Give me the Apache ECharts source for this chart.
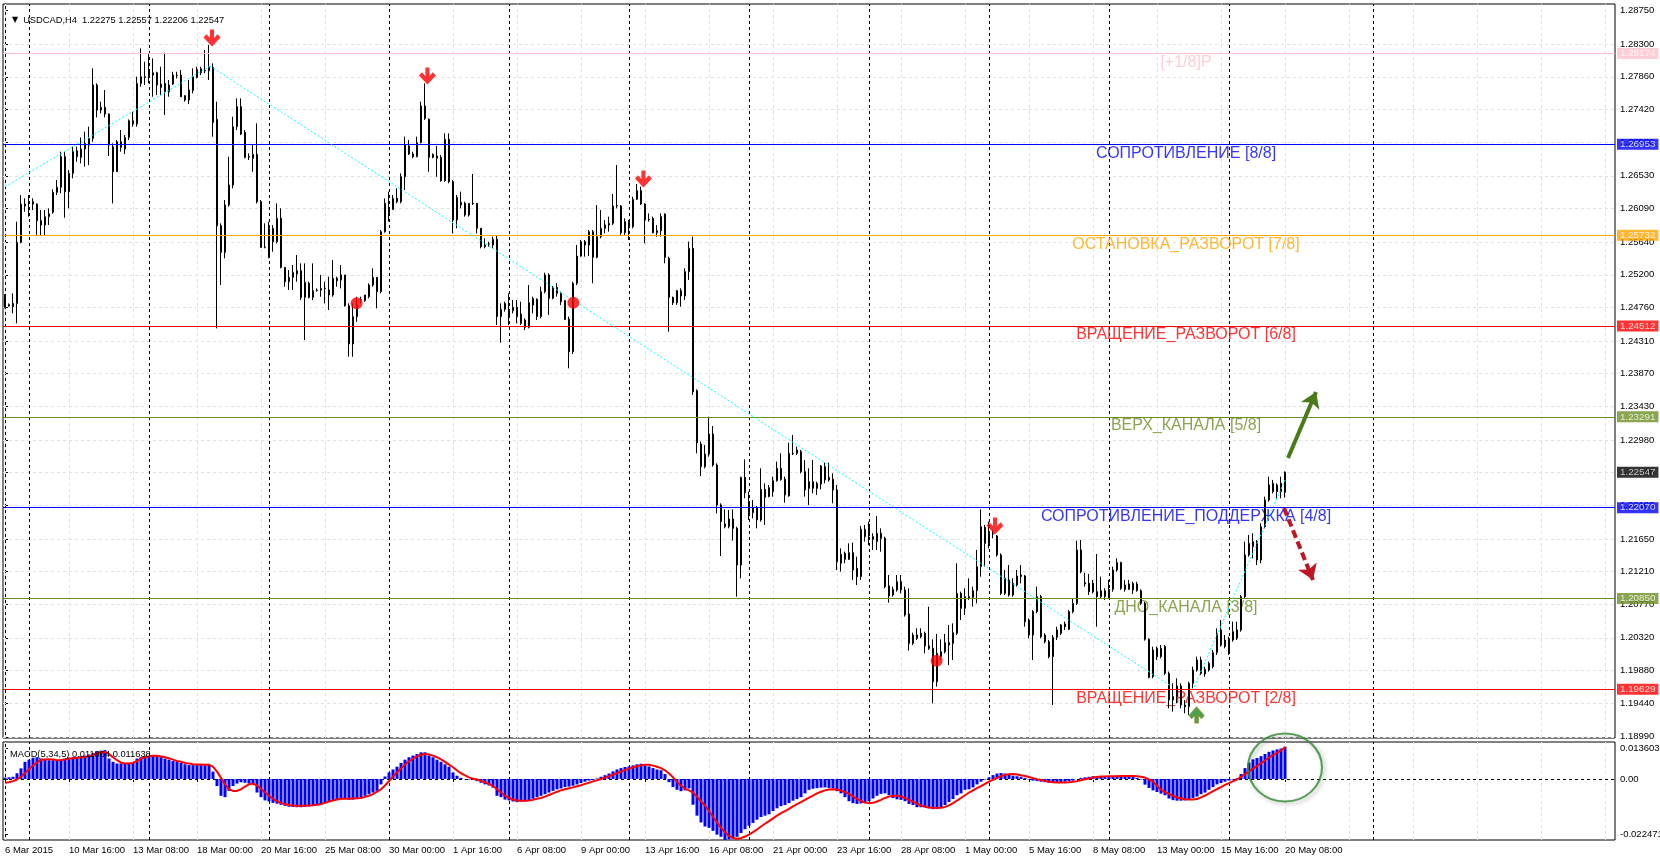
<!DOCTYPE html>
<html><head><meta charset="utf-8">
<script src="https://cdn.jsdelivr.net/npm/echarts@6/dist/echarts.min.js"></script>
<style>html,body{margin:0;padding:0;background:#fff;}#c{width:1660px;height:860px;}</style>
</head><body><div id="c"></div>
<script>
// ---------- DATA ----------
const symbolName = 'USDCAD,H4';
const dateLabels = ['6 Mar 2015','10 Mar 16:00','13 Mar 08:00','18 Mar 00:00','20 Mar 16:00','25 Mar 08:00','30 Mar 00:00','1 Apr 16:00','6 Apr 08:00','9 Apr 00:00','13 Apr 16:00','16 Apr 08:00','21 Apr 00:00','23 Apr 16:00','28 Apr 08:00','1 May 00:00','5 May 16:00','8 May 08:00','13 May 00:00','15 May 16:00','20 May 08:00'];
// [open, close, low, high] per H4 bar
const candles = [
[1.24905,1.24762,1.24748,1.24941],[1.24798,1.24780,1.24771,1.24815],[1.24771,1.24815,1.24681,1.24950],[1.24815,1.25635,1.24547,1.25913],[1.25635,1.26150,1.25622,1.26271],
[1.26150,1.26124,1.26048,1.26227],[1.26182,1.26175,1.25981,1.26271],[1.26182,1.26150,1.26070,1.26227],[1.26150,1.25927,1.25734,1.26159],[1.25927,1.25869,1.25734,1.26070],
[1.25869,1.25981,1.25734,1.26070],[1.25981,1.26019,1.25869,1.26092],[1.26039,1.26307,1.26019,1.26348],[1.26307,1.26375,1.26271,1.26473],[1.26375,1.26787,1.26294,1.26854],
[1.26787,1.26316,1.25967,1.26854],[1.26316,1.26563,1.26092,1.26607],[1.26563,1.26854,1.26496,1.26921],[1.26867,1.26787,1.26719,1.26921],[1.26778,1.26890,1.26697,1.27046],
[1.26890,1.26966,1.26652,1.27123],[1.26943,1.27033,1.26675,1.27190],[1.27033,1.27750,1.26988,1.27974],[1.27750,1.27414,1.27315,1.27772],[1.27414,1.27450,1.27369,1.27526],
[1.27450,1.27360,1.27315,1.27683],[1.27360,1.26943,1.26796,1.27369],[1.26921,1.26585,1.26159,1.26966],[1.26585,1.26988,1.26585,1.27011],[1.26988,1.26912,1.26854,1.27145],
[1.26890,1.27046,1.26822,1.27078],[1.27046,1.27270,1.27011,1.27288],[1.27270,1.27226,1.27190,1.27391],[1.27226,1.27772,1.27190,1.27862],[1.27772,1.27862,1.27727,1.28243],
[1.27862,1.27851,1.27750,1.28063],[1.27951,1.27862,1.27772,1.28175],[1.27884,1.27916,1.27593,1.28108],[1.27916,1.27750,1.27615,1.27929],[1.27718,1.27763,1.27615,1.27996],
[1.27772,1.27660,1.27347,1.28184],[1.27660,1.27750,1.27593,1.27817],[1.27763,1.27884,1.27750,1.27929],[1.27875,1.27880,1.27839,1.27929],[1.27884,1.27593,1.27593,1.27951],
[1.27606,1.27548,1.27526,1.27615],[1.27548,1.27683,1.27494,1.27817],[1.27674,1.27862,1.27638,1.27974],[1.27853,1.27960,1.27839,1.27996],[1.27916,1.27969,1.27884,1.27996],
[1.27942,1.27946,1.27907,1.28220],[1.27942,1.27987,1.27817,1.28287],[1.27987,1.27248,1.27055,1.28041],[1.27288,1.25859,1.24480,1.27526],[1.25859,1.25501,1.25062,1.25891],
[1.25501,1.26137,1.25421,1.26204],[1.26137,1.26406,1.26115,1.26787],[1.26406,1.27190,1.26361,1.27324],[1.27190,1.27459,1.27145,1.27571],[1.27459,1.27091,1.27078,1.27571],
[1.27114,1.26778,1.26764,1.27145],[1.26787,1.26782,1.26742,1.26831],[1.26764,1.26818,1.26585,1.26943],[1.26818,1.26182,1.26159,1.27235],[1.26182,1.25568,1.25568,1.26204],
[1.25568,1.25572,1.25555,1.25891],[1.25434,1.25823,1.25421,1.25913],[1.25823,1.25644,1.25510,1.25869],[1.25644,1.25958,1.25622,1.26159],[1.25958,1.25299,1.25286,1.26092],
[1.25299,1.25107,1.25040,1.25299],[1.25107,1.25165,1.24995,1.25263],[1.25165,1.25232,1.24995,1.25331],[1.25210,1.25254,1.25107,1.25465],[1.25254,1.24896,1.24860,1.25353],
[1.24896,1.25098,1.24323,1.25353],[1.25085,1.24896,1.24883,1.25107],[1.24896,1.24986,1.24860,1.25353],[1.24995,1.24990,1.24973,1.25017],[1.24995,1.25017,1.24905,1.25196],
[1.25010,1.25017,1.24815,1.25107],[1.24995,1.24928,1.24726,1.25174],[1.24928,1.25153,1.24905,1.25398],[1.25153,1.25120,1.25040,1.25174],[1.25129,1.25197,1.25017,1.25331],
[1.25197,1.24784,1.24771,1.25197],[1.24784,1.24269,1.24099,1.24816],[1.24269,1.24637,1.24099,1.24816],[1.24637,1.24793,1.24569,1.24905],[1.24861,1.24865,1.24816,1.24905],
[1.24852,1.24928,1.24838,1.24928],[1.24905,1.25062,1.24883,1.25085],[1.25062,1.25165,1.25040,1.25286],[1.25165,1.24973,1.24749,1.25165],[1.24973,1.25779,1.24950,1.25801],
[1.25779,1.26160,1.25766,1.26227],[1.26034,1.26079,1.25914,1.26317],[1.26079,1.26227,1.26070,1.26272],[1.26227,1.26182,1.26160,1.26361],[1.26182,1.26518,1.26160,1.26563],
[1.26518,1.26944,1.26339,1.27056],[1.26930,1.26823,1.26809,1.27011],[1.26823,1.26787,1.26765,1.26854],[1.26787,1.26975,1.26778,1.27056],[1.26975,1.27468,1.26966,1.27526],
[1.27468,1.27302,1.27280,1.27773],[1.27289,1.26778,1.26585,1.27302],[1.26778,1.26818,1.26765,1.26832],[1.26796,1.26765,1.26518,1.26930],[1.26778,1.26464,1.26451,1.26809],
[1.26464,1.27020,1.26451,1.27101],[1.27020,1.26451,1.26429,1.27101],[1.26451,1.25936,1.25757,1.26473],[1.25936,1.26240,1.25824,1.26272],[1.26173,1.26137,1.26093,1.26317],
[1.26160,1.26003,1.25981,1.26182],[1.26003,1.26160,1.25981,1.26160],[1.26160,1.26156,1.26137,1.26554],[1.26160,1.25824,1.25757,1.26160],[1.25824,1.25577,1.25555,1.25824],
[1.25577,1.25600,1.25555,1.25689],[1.25613,1.25610,1.25577,1.25645],[1.25600,1.25676,1.25555,1.25712],[1.25676,1.24637,1.24525,1.25735],[1.24637,1.24735,1.24287,1.24816],
[1.24735,1.24816,1.24704,1.24838],[1.24628,1.24717,1.24525,1.24950],[1.24717,1.24762,1.24681,1.24861],[1.24762,1.24637,1.24547,1.24861],[1.24672,1.24547,1.24525,1.24838],
[1.24592,1.24493,1.24457,1.24614],[1.24493,1.24825,1.24480,1.25062],[1.24793,1.24883,1.24681,1.24905],[1.24870,1.24637,1.24592,1.24883],[1.24637,1.24973,1.24614,1.25040],
[1.24973,1.25197,1.24950,1.25228],[1.25197,1.24883,1.24659,1.25219],[1.24883,1.25031,1.24870,1.25049],[1.25031,1.24950,1.24905,1.25085],[1.24950,1.24838,1.24793,1.24973],
[1.24852,1.24601,1.24592,1.24861],[1.24601,1.24166,1.23942,1.24637],[1.24166,1.25085,1.24135,1.25107],[1.25085,1.25452,1.25062,1.25600],[1.25452,1.25645,1.25443,1.25667],
[1.25645,1.25600,1.25443,1.25667],[1.25600,1.25779,1.25452,1.25801],[1.25779,1.25434,1.25085,1.25801],[1.25434,1.25712,1.25421,1.26137],[1.25712,1.25824,1.25689,1.26070],
[1.25824,1.25869,1.25757,1.25936],[1.25869,1.25891,1.25779,1.25981],[1.25891,1.26124,1.25869,1.26285],[1.26124,1.26128,1.26093,1.26675],[1.26124,1.25766,1.25735,1.26137],
[1.25766,1.25914,1.25735,1.25958],[1.25914,1.25846,1.25667,1.25936],[1.25846,1.26214,1.25824,1.26249],[1.26214,1.26330,1.26205,1.26420],[1.26330,1.26151,1.26137,1.26384],
[1.26151,1.25936,1.25622,1.26160],[1.25945,1.25940,1.25914,1.26025],[1.25958,1.25766,1.25757,1.25981],[1.25766,1.25792,1.25712,1.25869],[1.25792,1.25981,1.25712,1.26025],
[1.26016,1.25434,1.25354,1.26025],[1.25421,1.24897,1.24435,1.25443],[1.24897,1.24825,1.24794,1.24906],[1.24825,1.24986,1.24794,1.24995],[1.24986,1.24915,1.24771,1.25018],
[1.24915,1.25242,1.24861,1.25286],[1.25242,1.25555,1.25130,1.25645],[1.25555,1.23629,1.23584,1.25712],[1.23642,1.22943,1.22800,1.23660],[1.22925,1.22621,1.22495,1.22957],
[1.22621,1.22791,1.22598,1.22912],[1.22791,1.23060,1.22755,1.23293],[1.23060,1.22643,1.22621,1.23167],[1.22643,1.22106,1.21994,1.22666],[1.22106,1.21882,1.21420,1.22128],
[1.21850,1.21814,1.21792,1.22047],[1.21814,1.21917,1.21792,1.22038],[1.21917,1.21792,1.21627,1.22047],[1.21792,1.21299,1.20874,1.21814],[1.21299,1.22477,1.21120,1.22486],
[1.22477,1.22271,1.22195,1.22719],[1.22150,1.22002,1.21904,1.22285],[1.22002,1.22074,1.21926,1.22173],[1.22074,1.21904,1.21792,1.22092],[1.21904,1.22316,1.21882,1.22598],
[1.22316,1.22209,1.21837,1.22397],[1.22218,1.22339,1.22209,1.22374],[1.22285,1.22433,1.22218,1.22486],[1.22433,1.22598,1.22419,1.22688],[1.22598,1.22451,1.22433,1.22800],
[1.22451,1.22240,1.22137,1.22486],[1.22227,1.22800,1.22218,1.22943],[1.22800,1.22796,1.22777,1.23046],[1.22800,1.22845,1.22777,1.22890],[1.22822,1.22554,1.22531,1.22845],
[1.22554,1.22307,1.22218,1.22710],[1.22419,1.22330,1.22106,1.22598],[1.22330,1.22419,1.22262,1.22710],[1.22397,1.22330,1.22240,1.22419],[1.22388,1.22630,1.22316,1.22643],
[1.22621,1.22442,1.22397,1.22675],[1.22442,1.22477,1.22419,1.22675],[1.22451,1.22307,1.22128,1.22531],[1.22307,1.21344,1.21232,1.22374],[1.21322,1.21442,1.21210,1.21523],
[1.21456,1.21375,1.21322,1.21479],[1.21375,1.21465,1.21366,1.21590],[1.21465,1.21232,1.21098,1.21599],[1.21254,1.21142,1.21030,1.21411],[1.21142,1.21779,1.21098,1.21825],
[1.21779,1.21680,1.21614,1.21837],[1.21689,1.21850,1.21568,1.21882],[1.21680,1.21645,1.21501,1.21725],[1.21614,1.21725,1.21501,1.21958],[1.21725,1.21658,1.21479,1.21792],
[1.21658,1.21008,1.20986,1.21680],[1.21017,1.20883,1.20793,1.21165],[1.20896,1.20972,1.20874,1.21008],[1.20963,1.21075,1.20941,1.21165],[1.21075,1.20963,1.20918,1.21165],
[1.20963,1.20627,1.20605,1.21008],[1.20641,1.20246,1.20148,1.20986],[1.20246,1.20358,1.20224,1.20390],[1.20314,1.20358,1.20291,1.20448],[1.20381,1.20336,1.20314,1.20448],
[1.20381,1.20211,1.20112,1.20403],[1.20211,1.20179,1.20157,1.20739],[1.20179,1.19731,1.19440,1.20300],[1.19731,1.20112,1.19664,1.20372],[1.20067,1.20134,1.20022,1.20300],
[1.20134,1.20255,1.20112,1.20372],[1.20255,1.20224,1.19955,1.20493],[1.20246,1.20390,1.20022,1.20515],[1.20381,1.20918,1.20358,1.21322],[1.20918,1.20717,1.20560,1.20941],
[1.20717,1.20874,1.20627,1.20986],[1.20851,1.20874,1.20829,1.21120],[1.20865,1.20954,1.20739,1.21008],[1.20954,1.21277,1.20784,1.21501],[1.21277,1.21814,1.21142,1.22047],
[1.21805,1.21590,1.21277,1.21837],[1.21590,1.21725,1.21523,1.21882],[1.21716,1.21720,1.21658,1.21770],[1.21689,1.21434,1.21411,1.21703],[1.21434,1.20918,1.20896,1.21456],
[1.20918,1.21120,1.20896,1.21232],[1.21098,1.20896,1.20874,1.21299],[1.20896,1.21053,1.20874,1.21120],[1.21030,1.21151,1.21008,1.21232],[1.21142,1.21165,1.21053,1.21299],
[1.21151,1.20538,1.20470,1.21165],[1.20560,1.20358,1.20314,1.20582],[1.20358,1.20672,1.20022,1.20694],[1.20672,1.20874,1.20650,1.21008],[1.20874,1.20336,1.20314,1.20896],
[1.20358,1.20269,1.20246,1.20381],[1.20269,1.20067,1.20045,1.20291],[1.20067,1.20327,1.19418,1.20358],[1.20327,1.20426,1.20291,1.20470],[1.20381,1.20493,1.20358,1.20506],
[1.20506,1.20470,1.20426,1.20538],[1.20435,1.20672,1.20426,1.20694],[1.20672,1.20784,1.20650,1.20851],[1.20784,1.21501,1.20762,1.21626],[1.21501,1.21210,1.21187,1.21635],
[1.21044,1.21062,1.21008,1.21196],[1.21053,1.20941,1.20896,1.21178],[1.21053,1.20941,1.20918,1.21098],[1.20941,1.20874,1.20470,1.21447],[1.20954,1.20874,1.20851,1.21142],
[1.20874,1.20954,1.20829,1.20986],[1.20865,1.20972,1.20851,1.21098],[1.20972,1.21232,1.20941,1.21277],[1.21232,1.21331,1.21210,1.21389],[1.21331,1.20986,1.20963,1.21344],
[1.21030,1.20972,1.20941,1.21098],[1.20972,1.21044,1.20963,1.21098],[1.20963,1.21053,1.20910,1.21075],[1.21044,1.20954,1.20941,1.21075],[1.20954,1.20784,1.20762,1.20972],
[1.20784,1.20300,1.20282,1.20806],[1.20300,1.19789,1.19776,1.20314],[1.19798,1.20157,1.19776,1.20202],[1.20179,1.20067,1.20022,1.20202],[1.20067,1.20179,1.20045,1.20224],
[1.20202,1.19843,1.19821,1.20224],[1.19843,1.19485,1.19373,1.19866],[1.19485,1.19530,1.19328,1.19709],[1.19530,1.19673,1.19440,1.19776],[1.19673,1.19418,1.19373,1.19709],
[1.19418,1.19395,1.19306,1.19485],[1.19395,1.19709,1.19283,1.19731],[1.19709,1.19888,1.19642,1.19933],[1.19888,1.20022,1.19866,1.20067],[1.20022,1.19843,1.19821,1.20067],
[1.19834,1.19897,1.19798,1.19933],[1.19888,1.19978,1.19866,1.20000],[1.19933,1.20121,1.19910,1.20157],[1.20121,1.20381,1.20090,1.20448],[1.20426,1.20224,1.20202,1.20560],
[1.20291,1.20202,1.20179,1.20358],[1.20112,1.20314,1.20090,1.20336],[1.20291,1.20403,1.20269,1.20538],[1.20314,1.20426,1.20291,1.20538],[1.20426,1.20874,1.20403,1.20896],
[1.20874,1.21434,1.20851,1.21613],[1.21434,1.21590,1.21411,1.21702],[1.21546,1.21613,1.21389,1.21725],[1.21613,1.21366,1.21299,1.21635],[1.21366,1.21814,1.21322,1.21859],
[1.21814,1.22173,1.21792,1.22218],[1.22173,1.22374,1.22150,1.22486],[1.22285,1.22397,1.22262,1.22442],[1.22374,1.22285,1.22195,1.22397],[1.22397,1.22285,1.22195,1.22486],
[1.22275,1.22547,1.22206,1.22557]
];
const macdHist = [
0.0005,0.0006,0.0008,0.0021,0.0039,0.0063,0.0071,0.0078,0.0080,0.0075,
0.0071,0.0069,0.0069,0.0069,0.0071,0.0075,0.0078,0.0080,0.0080,0.0083,
0.0086,0.0090,0.0095,0.0102,0.0104,0.0106,0.0075,0.0063,0.0057,0.0057,
0.0057,0.0057,0.0059,0.0075,0.0080,0.0083,0.0085,0.0086,0.0085,0.0080,
0.0075,0.0071,0.0066,0.0063,0.0059,0.0054,0.0051,0.0051,0.0051,0.0051,
0.0051,0.0052,0.0027,-0.0026,-0.0062,-0.0067,-0.0044,-0.0026,-0.0017,-0.0012,
-0.0014,-0.0017,-0.0020,-0.0050,-0.0067,-0.0079,-0.0083,-0.0088,-0.0091,-0.0095,
-0.0099,-0.0102,-0.0103,-0.0104,-0.0104,-0.0103,-0.0101,-0.0099,-0.0097,-0.0095,
-0.0088,-0.0083,-0.0079,-0.0076,-0.0073,-0.0073,-0.0076,-0.0076,-0.0071,-0.0067,
-0.0062,-0.0056,-0.0050,-0.0044,-0.0020,0.0009,0.0024,0.0035,0.0045,0.0059,
0.0071,0.0080,0.0086,0.0092,0.0098,0.0098,0.0086,0.0080,0.0071,0.0063,
0.0054,0.0045,0.0024,0.0012,0.0004,-0.0001,-0.0002,-0.0002,-0.0008,-0.0014,
-0.0020,-0.0024,-0.0032,-0.0062,-0.0067,-0.0076,-0.0079,-0.0083,-0.0085,-0.0083,
-0.0083,-0.0079,-0.0073,-0.0067,-0.0062,-0.0056,-0.0050,-0.0044,-0.0038,-0.0035,
-0.0030,-0.0028,-0.0025,-0.0020,-0.0015,-0.0010,-0.0006,-0.0003,0.0002,0.0008,
0.0014,0.0020,0.0028,0.0035,0.0040,0.0044,0.0046,0.0050,0.0054,0.0056,
0.0050,0.0046,0.0040,0.0035,0.0032,0.0018,-0.0012,-0.0030,-0.0040,-0.0045,
-0.0042,-0.0035,-0.0095,-0.0135,-0.0160,-0.0175,-0.0180,-0.0191,-0.0205,-0.0213,
-0.0225,-0.0222,-0.0220,-0.0213,-0.0199,-0.0185,-0.0172,-0.0162,-0.0150,-0.0140,
-0.0135,-0.0130,-0.0118,-0.0108,-0.0100,-0.0096,-0.0089,-0.0080,-0.0074,-0.0067,
-0.0053,-0.0040,-0.0036,-0.0034,-0.0032,-0.0031,-0.0033,-0.0035,-0.0045,-0.0053,
-0.0067,-0.0082,-0.0089,-0.0092,-0.0090,-0.0089,-0.0082,-0.0072,-0.0062,-0.0055,
-0.0053,-0.0060,-0.0070,-0.0075,-0.0077,-0.0082,-0.0092,-0.0096,-0.0104,-0.0104,
-0.0104,-0.0108,-0.0111,-0.0108,-0.0104,-0.0096,-0.0085,-0.0074,-0.0060,-0.0053,
-0.0040,-0.0038,-0.0031,-0.0020,-0.0010,-0.0002,0.0006,0.0014,0.0020,0.0022,
0.0020,0.0016,0.0012,0.0010,0.0008,0.0004,-0.0002,-0.0006,-0.0008,-0.0010,
-0.0012,-0.0014,-0.0015,-0.0014,-0.0012,-0.0010,-0.0008,-0.0006,0.0000,0.0004,
0.0006,0.0008,0.0010,0.0010,0.0010,0.0009,0.0010,0.0011,0.0012,0.0012,
0.0011,0.0010,0.0008,0.0004,-0.0002,-0.0021,-0.0033,-0.0042,-0.0048,-0.0054,
-0.0060,-0.0072,-0.0078,-0.0080,-0.0080,-0.0079,-0.0076,-0.0070,-0.0065,-0.0056,
-0.0050,-0.0040,-0.0030,-0.0020,-0.0015,-0.0010,-0.0006,-0.0002,0.0002,0.0018,
0.0040,0.0060,0.0072,0.0077,0.0084,0.0092,0.0100,0.0105,0.0109,0.0112,0.011864
];
const macdSignal = [
-0.0014,-0.0012,-0.0008,-0.0002,0.0008,0.0022,0.0036,0.0050,0.0060,0.0071,
0.0072,0.0073,0.0072,0.0069,0.0070,0.0072,0.0075,0.0075,0.0078,0.0080,
0.0080,0.0084,0.0088,0.0094,0.0098,0.0099,0.0092,0.0080,0.0069,0.0060,
0.0057,0.0057,0.0059,0.0066,0.0075,0.0080,0.0083,0.0085,0.0085,0.0083,
0.0080,0.0076,0.0071,0.0066,0.0063,0.0059,0.0057,0.0054,0.0053,0.0053,
0.0052,0.0052,0.0045,0.0027,0.0004,-0.0020,-0.0038,-0.0044,-0.0044,-0.0038,
-0.0028,-0.0020,-0.0017,-0.0024,-0.0036,-0.0050,-0.0062,-0.0073,-0.0082,-0.0088,
-0.0092,-0.0096,-0.0098,-0.0099,-0.0099,-0.0099,-0.0098,-0.0097,-0.0095,-0.0092,
-0.0088,-0.0083,-0.0079,-0.0076,-0.0073,-0.0073,-0.0073,-0.0072,-0.0071,-0.0070,
-0.0066,-0.0062,-0.0056,-0.0047,-0.0038,-0.0024,-0.0008,0.0009,0.0024,0.0039,
0.0053,0.0065,0.0075,0.0083,0.0089,0.0092,0.0090,0.0086,0.0080,0.0072,
0.0063,0.0053,0.0043,0.0031,0.0021,0.0013,0.0006,0.0001,-0.0002,-0.0007,
-0.0012,-0.0018,-0.0026,-0.0038,-0.0050,-0.0062,-0.0070,-0.0076,-0.0079,-0.0080,
-0.0080,-0.0079,-0.0077,-0.0073,-0.0070,-0.0065,-0.0059,-0.0053,-0.0047,-0.0042,
-0.0038,-0.0034,-0.0031,-0.0027,-0.0023,-0.0018,-0.0014,-0.0009,-0.0005,0.0000,
0.0005,0.0010,0.0016,0.0021,0.0027,0.0033,0.0038,0.0043,0.0047,0.0050,
0.0052,0.0052,0.0049,0.0045,0.0040,0.0032,0.0020,0.0006,-0.0010,-0.0025,
-0.0036,-0.0042,-0.0050,-0.0065,-0.0082,-0.0098,-0.0118,-0.0140,-0.0160,-0.0180,
-0.0196,-0.0210,-0.0217,-0.0220,-0.0218,-0.0212,-0.0205,-0.0196,-0.0186,-0.0175,
-0.0165,-0.0155,-0.0145,-0.0135,-0.0126,-0.0118,-0.0110,-0.0101,-0.0093,-0.0085,
-0.0077,-0.0069,-0.0061,-0.0053,-0.0047,-0.0042,-0.0039,-0.0038,-0.0039,-0.0043,
-0.0048,-0.0055,-0.0064,-0.0073,-0.0081,-0.0087,-0.0089,-0.0088,-0.0083,-0.0077,
-0.0070,-0.0065,-0.0062,-0.0062,-0.0065,-0.0070,-0.0077,-0.0084,-0.0091,-0.0098,
-0.0102,-0.0105,-0.0106,-0.0107,-0.0106,-0.0103,-0.0097,-0.0089,-0.0080,-0.0070,
-0.0060,-0.0050,-0.0042,-0.0034,-0.0026,-0.0018,-0.0010,-0.0003,0.0004,0.0010,
0.0015,0.0017,0.0018,0.0016,0.0014,0.0011,0.0007,0.0003,-0.0001,-0.0004,
-0.0007,-0.0010,-0.0012,-0.0013,-0.0013,-0.0013,-0.0012,-0.0010,-0.0008,-0.0005,
-0.0001,0.0002,0.0005,0.0007,0.0009,0.0009,0.0010,0.0010,0.0010,0.0011,
0.0011,0.0011,0.0011,0.0010,0.0008,0.0005,-0.0002,-0.0010,-0.0025,-0.0040,
-0.0048,-0.0055,-0.0062,-0.0068,-0.0072,-0.0075,-0.0076,-0.0076,-0.0074,-0.0068,
-0.0061,-0.0053,-0.0045,-0.0037,-0.0030,-0.0022,-0.0015,-0.0008,-0.0002,0.0008,
0.0018,0.0028,0.0038,0.0048,0.0058,0.0068,0.0079,0.0088,0.0096,0.0105,0.011638
];
const priceAxisTop = 1.28750;
const priceTicks = [1.28300,1.27860,1.27420,1.26980,1.26530,1.26090,1.25640,1.25200,1.24760,1.24310,1.23870,1.23430,1.22980,1.22540,1.22100,1.21650,1.21210,1.20770,1.20320,1.19880,1.19440,1.18990];
const macdMax = 0.013603, macdMin = -0.022471;
const levelValues = [1.28174,1.26953,1.25732,1.24512,1.23291,1.22070,1.20850,1.19629];
const levelNames = ['[+1/8]P','СОПРОТИВЛЕНИЕ [8/8]','ОСТАНОВКА_РАЗВОРОТ [7/8]','ВРАЩЕНИЕ_РАЗВОРОТ [6/8]','ВЕРХ_КАНАЛА [5/8]','СОПРОТИВЛЕНИЕ_ПОДДЕРЖКА [4/8]','ДНО_КАНАЛА [3/8]','ВРАЩЕНИЕ_РАЗВОРОТ [2/8]'];
const levelColors = ['#FFC0CB','#0000FF','#FFA500','#FF0000','#6B8E23','#0000FF','#6B8E23','#FF0000'];
const levelTextBar = 295.25;
const weekStartBars = [6,36,66,96,126,156,186,216,246,276,306,342];
const arrowDownPoints = [[51.75,1.28382],[105.6,1.27871],[159.6,1.26487],[247.5,1.21823]];
const dotPoints = [[87.9,1.24816],[142.1,1.24824],[232.9,1.20013]];
const arrowUpPoints = [[297.9,1.19283]];
const trendLines = [
  [[0,1.26383],[51.25,1.28005]],
  [[51.25,1.28005],[291.5,1.19672]],
  [[297.3,1.19663],[320,1.22441]]
];
const upArrow = [[320.75,1.22736],[327.75,1.23624]];
const downArrow = [[319.75,1.22065],[327,1.21097]];
const macdCircle = [320,0.00420];

// ---------- LAYOUT ----------
const SLOTS = 403;
const Y_MIN = 1.18974, Y_MAX = 1.28839;
const X_MIN = -0.5, X_MAX = SLOTS - 0.5;
const last = candles[candles.length-1];
const categories = [];
for (let i = 0; i < SLOTS; i++) categories.push(i % 16 === 0 && i/16 < dateLabels.length ? dateLabels[i/16] : '');
const vGridBars = [];
for (let i = 0; i < SLOTS; i += 16) vGridBars.push(i);
const FONT = 'Liberation Sans';
const fmt5 = v => v.toFixed(5);
const downPath = 'path://M6.5,0 L10.5,0 L10.5,8 L14,4.5 L17,7.5 L8.5,16 L0,7.5 L3,4.5 L6.5,8 Z';
const upPath = 'path://M6.5,16 L10.5,16 L10.5,8 L14,11.5 L17,8.5 L8.5,0 L0,8.5 L3,11.5 L6.5,8 Z';
const macdInset = (macdMax - macdMin) / 98 * 6;
const gridStyle = {color: '#e2e2e2', type: [3, 3], width: 1};
const sepStyle = {color: '#000000', type: [3, 3], width: 1};

const mainGuides = []
  .concat(priceTicks.map(v => ({coords: [[X_MIN, v], [X_MAX, v]], lineStyle: gridStyle})))
  .concat(vGridBars.map(b => ({coords: [[b, Y_MIN], [b, Y_MAX]], lineStyle: gridStyle})))
  .concat(weekStartBars.map(b => ({coords: [[b, Y_MIN], [b, Y_MAX]], lineStyle: sepStyle})));
const macdGuides = []
  .concat(vGridBars.map(b => ({coords: [[b, macdMin], [b, macdMax]], lineStyle: gridStyle})))
  .concat(weekStartBars.map(b => ({coords: [[b, macdMin], [b, macdMax]], lineStyle: sepStyle})))
  .concat([{coords: [[X_MIN, 0], [X_MAX, 0]], lineStyle: sepStyle}]);
const levelLines = levelValues.map((v, k) => ({coords: [[X_MIN, v], [X_MAX, v]], lineStyle: {color: levelColors[k], width: 1, type: 'solid'}}));
const tagItems = levelValues.map((v, k) => ({value: [X_MAX, v], label: {backgroundColor: levelColors[k], formatter: fmt5(v)}}))
  .concat([{value: [X_MAX, last[1]], label: {backgroundColor: '#000000', formatter: fmt5(last[1])}}]);

const chart = echarts.init(document.getElementById('c'));
const option = {
  animation: false,
  backgroundColor: '#ffffff',
  textStyle: {fontFamily: FONT},
  title: [
    {left: 7, top: 6, text: '{tri|▼} {t|' + symbolName + '  ' + [last[0], last[3], last[2], last[1]].map(fmt5).join(' ') + '}',
     textStyle: {rich: {tri: {fontFamily: 'DejaVu Sans', fontSize: 8, color: '#000'}, t: {fontFamily: FONT, fontSize: 9.3, color: '#000', fontWeight: 'normal'}}}},
    {left: 5, top: 745, text: 'MACD(5,34,5) ' + macdHist[macdHist.length-1].toFixed(6) + ' ' + macdSignal[macdSignal.length-1].toFixed(6),
     textStyle: {fontFamily: FONT, fontSize: 9.3, color: '#000', fontWeight: 'normal'}}
  ],
  grid: [
    {left: 3, top: 4, width: 1612, height: 734, show: true, borderColor: '#000', borderWidth: 1, outerBoundsMode: 'none'},
    {left: 3, top: 742, width: 1612, height: 98, show: true, borderColor: '#000', borderWidth: 1, outerBoundsMode: 'none'}
  ],
  xAxis: [
    {type: 'category', gridIndex: 0, data: categories, boundaryGap: true, axisLine: {show: false}, axisTick: {show: false}, axisLabel: {show: false}, splitLine: {show: false}},
    {type: 'category', gridIndex: 1, data: categories, boundaryGap: true, axisLine: {show: false},
     axisTick: {show: true, alignWithLabel: true, interval: (i, v) => v !== '', length: 3, lineStyle: {color: '#000'}},
     axisLabel: {show: true, interval: (i, v) => v !== '', align: 'left', margin: 5, fontSize: 9.5, color: '#000', fontFamily: FONT, hideOverlap: false},
     splitLine: {show: false}},
    {type: 'value', gridIndex: 0, min: X_MIN, max: X_MAX, show: false},
    {type: 'value', gridIndex: 1, min: X_MIN, max: X_MAX, show: false}
  ],
  yAxis: [
    {type: 'value', gridIndex: 0, position: 'right', min: Y_MIN, max: Y_MAX,
     axisLine: {show: true, lineStyle: {color: '#000'}},
     axisTick: {show: true, length: 3, inside: false, customValues: [priceAxisTop].concat(priceTicks), lineStyle: {color: '#000'}},
     axisLabel: {show: true, customValues: [priceAxisTop].concat(priceTicks), formatter: fmt5, margin: 5, fontSize: 9.5, color: '#000', fontFamily: FONT},
     splitLine: {show: false}},
    {type: 'value', gridIndex: 1, position: 'right', min: macdMin, max: macdMax,
     axisLine: {show: true, lineStyle: {color: '#000'}},
     axisTick: {show: true, length: 3, customValues: [macdMin + macdInset, 0, macdMax - macdInset], lineStyle: {color: '#000'}},
     axisLabel: {show: true, customValues: [macdMin + macdInset, 0, macdMax - macdInset],
       formatter: v => v > 0.0005 ? macdMax.toFixed(6) : (v < -0.0005 ? macdMin.toFixed(6) : '0.00'),
       margin: 5, fontSize: 9.5, color: '#000', fontFamily: FONT},
     splitLine: {show: false}}
  ],
  series: [
    {type: 'lines', coordinateSystem: 'cartesian2d', xAxisIndex: 2, yAxisIndex: 0, z: 1, silent: true,
     data: mainGuides, lineStyle: {opacity: 1}},
    {type: 'lines', coordinateSystem: 'cartesian2d', xAxisIndex: 3, yAxisIndex: 1, z: 1, silent: true,
     data: macdGuides, lineStyle: {opacity: 1}},
    // level captions
    {type: 'scatter', xAxisIndex: 2, yAxisIndex: 0, z: 2, silent: true, symbolSize: 0, clip: false,
     data: levelValues.map((v, k) => ({value: [levelTextBar, v], label: {color: levelColors[k], formatter: levelNames[k]}})),
     label: {show: true, position: 'bottom', distance: 1, fontSize: 16, fontFamily: FONT}},
    // candles
    {type: 'candlestick', xAxisIndex: 0, yAxisIndex: 0, data: candles, barWidth: 2, z: 3,
     itemStyle: {color: '#ffffff', color0: '#000000', borderColor: '#000000', borderColor0: '#000000', borderWidth: 1}},
    // level lines
    {type: 'lines', coordinateSystem: 'cartesian2d', xAxisIndex: 2, yAxisIndex: 0, z: 4, silent: true,
     data: levelLines, lineStyle: {opacity: 1}},
    // price tags on the axis
    {type: 'scatter', xAxisIndex: 2, yAxisIndex: 0, z: 8, silent: true, symbolSize: 0, clip: false,
     data: tagItems,
     label: {show: true, position: 'right', distance: 2, color: '#ffffff', padding: [1, 3, 0, 3], fontSize: 9.8, fontFamily: FONT}},
    // cyan trend lines
    {type: 'lines', coordinateSystem: 'cartesian2d', xAxisIndex: 2, yAxisIndex: 0, z: 5, silent: true,
     data: trendLines.map(c => ({coords: c})), lineStyle: {color: '#00FFFF', width: 1, type: [2, 2], opacity: 1}},
    // big annotation arrows
    {type: 'lines', coordinateSystem: 'cartesian2d', xAxisIndex: 2, yAxisIndex: 0, z: 6, silent: true,
     symbol: ['none', 'arrow'], symbolSize: 15,
     data: [{coords: upArrow, lineStyle: {color: '#4A7A1A', width: 4, type: 'solid', opacity: 1}},
            {coords: downArrow, lineStyle: {color: '#BE1622', width: 4, type: [8, 4], opacity: 1}}]},
    // red down arrows
    {type: 'scatter', xAxisIndex: 2, yAxisIndex: 0, z: 6, silent: true, symbol: downPath, symbolSize: [17, 17],
     data: arrowDownPoints, itemStyle: {color: '#FF0000'}},
    // red dots
    {type: 'scatter', xAxisIndex: 2, yAxisIndex: 0, z: 6, silent: true, symbol: 'circle', symbolSize: 12,
     data: dotPoints, itemStyle: {color: '#FF0000'}},
    // green up arrow
    {type: 'scatter', xAxisIndex: 2, yAxisIndex: 0, z: 6, silent: true, symbol: upPath, symbolSize: [15, 16],
     data: arrowUpPoints, itemStyle: {color: '#1E8C1E', borderColor: '#7A8A20', borderWidth: 1}},
    // MACD histogram
    {type: 'bar', xAxisIndex: 1, yAxisIndex: 1, data: macdHist, barWidth: 3, z: 3, silent: true,
     itemStyle: {color: '#0000FF'}},
    // MACD signal
    {type: 'line', xAxisIndex: 1, yAxisIndex: 1, data: macdSignal, z: 4, silent: true, showSymbol: false, symbol: 'none',
     lineStyle: {color: '#FF0000', width: 2}},
    // green ellipse
    {type: 'scatter', xAxisIndex: 3, yAxisIndex: 1, z: 7, silent: true, symbol: 'circle', symbolSize: [74, 68], clip: false,
     data: [macdCircle], itemStyle: {color: 'rgba(0,0,0,0)', borderColor: '#2E8B2E', borderWidth: 2,
       shadowBlur: 4, shadowColor: 'rgba(0,0,0,0.35)', shadowOffsetX: 2, shadowOffsetY: 2}}
  ]
};
chart.setOption(option);
</script></body></html>
